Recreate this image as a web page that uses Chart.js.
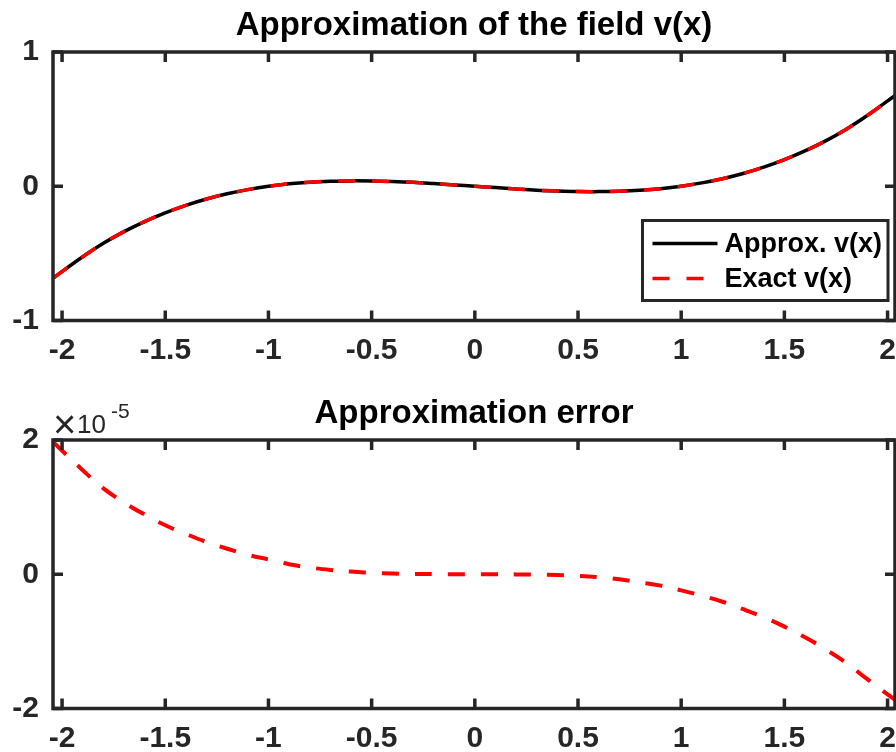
<!DOCTYPE html>
<html>
<head>
<meta charset="utf-8">
<script src="https://cdn.jsdelivr.net/npm/chart.js@4.4.1/dist/chart.umd.min.js"></script>
<style>
  body { margin: 0; background: #fff; }
  #wrap { position: relative; width: 896px; height: 752px; overflow: hidden; }
  canvas { position: absolute; left: 0; }
</style>
</head>
<body>
<div id="wrap">
  <canvas id="top" width="896" height="376" style="top:0"></canvas>
  <canvas id="bottom" width="896" height="376" style="top:376px"></canvas>
</div>
<script>
// sample positions along x
const xVals = [-2.04, -1.9, -1.8, -1.7, -1.6, -1.5, -1.4, -1.3, -1.2, -1.1, -1.0,
  -0.9, -0.8, -0.7, -0.6, -0.5, -0.4, -0.3, -0.2, -0.1, 0,
  0.1, 0.2, 0.3, 0.4, 0.5, 0.6, 0.7, 0.8, 0.9, 1.0,
  1.1, 1.2, 1.3, 1.4, 1.5, 1.6, 1.7, 1.8, 1.9, 2.04];

// field v(x)
const approxV = [-0.68, -0.525, -0.425, -0.338, -0.263, -0.198, -0.142, -0.095, -0.056, -0.025, 0.0,
  0.018, 0.030, 0.037, 0.040, 0.039, 0.035, 0.029, 0.020, 0.010, 0.0,
  -0.010, -0.020, -0.029, -0.035, -0.039, -0.040, -0.037, -0.030, -0.018, 0.0,
  0.025, 0.056, 0.095, 0.142, 0.198, 0.263, 0.338, 0.425, 0.525, 0.68];
const exactV = [-0.68, -0.525, -0.425, -0.338, -0.263, -0.198, -0.142, -0.095, -0.056, -0.025, 0.0,
  0.018, 0.030, 0.037, 0.040, 0.039, 0.035, 0.029, 0.020, 0.010, 0.0,
  -0.010, -0.020, -0.029, -0.035, -0.039, -0.040, -0.037, -0.030, -0.018, 0.0,
  0.025, 0.056, 0.095, 0.142, 0.198, 0.263, 0.338, 0.425, 0.525, 0.68];

// error, in units of 1e-5
const errV = [1.96, 1.55, 1.28, 1.07, 0.89, 0.73, 0.60, 0.48, 0.38, 0.29, 0.22,
  0.15, 0.10, 0.065, 0.04, 0.02, 0.01, 0.005, 0.002, 0.0, 0.0,
  0.0, -0.002, -0.006, -0.012, -0.025, -0.045, -0.075, -0.12, -0.17, -0.24,
  -0.32, -0.41, -0.52, -0.64, -0.78, -0.94, -1.12, -1.32, -1.56, -1.88];

const xTicks = [-2, -1.5, -1, -0.5, 0, 0.5, 1, 1.5, 2];
const vTicks = [-1, 0, 1];
const errTicks = [-2, 0, 2];

const FONT = '"Liberation Sans", Arial, Helvetica, sans-serif';
const AXIS = '#262626';

const pts = ys => xVals.map((x, i) => ({ x: x, y: ys[i] }));

// matlab style box, inward ticks, title, legend
const matlabAxes = {
  id: 'matlabAxes',
  afterDraw(chart, args, opts) {
    const { ctx, chartArea: a } = chart;
    const xs = chart.scales.x, ys = chart.scales.y;
    ctx.save();
    ctx.strokeStyle = AXIS;
    ctx.lineWidth = 3.5;
    ctx.lineCap = 'butt';
    ctx.beginPath();
    for (const t of opts.xTicks) {
      const px = xs.getPixelForValue(t);
      ctx.moveTo(px, a.bottom); ctx.lineTo(px, a.bottom - 10);
      ctx.moveTo(px, a.top); ctx.lineTo(px, a.top + 10);
    }
    for (const t of opts.yTicks) {
      const py = ys.getPixelForValue(t);
      ctx.moveTo(a.left, py); ctx.lineTo(a.left + 10, py);
      ctx.moveTo(a.right, py); ctx.lineTo(a.right - 10, py);
    }
    ctx.stroke();
    ctx.strokeRect(a.left, a.top, a.right - a.left, a.bottom - a.top);

    // title
    ctx.fillStyle = '#000';
    ctx.font = 'bold 33px ' + FONT;
    ctx.textAlign = 'center';
    ctx.textBaseline = 'alphabetic';
    ctx.fillText(opts.title, (a.left + a.right) / 2, a.top - 17);

    if (opts.exponent) {
      ctx.fillStyle = AXIS;
      ctx.textAlign = 'left';
      ctx.font = '40px ' + FONT;
      ctx.fillText('\u00d7', a.left, a.top - 2);
      ctx.font = '26px ' + FONT;
      ctx.fillText('10', a.left + 24, a.top - 7);
      ctx.font = '21px ' + FONT;
      ctx.fillText(opts.exponent, a.left + 58, a.top - 22);
    }

    if (opts.legend) {
      const sets = chart.data.datasets;
      ctx.font = 'bold 27px ' + FONT;
      const tw = Math.max(...sets.map(d => ctx.measureText(d.label).width));
      const bw = 11 + 62 + 9 + tw + 6, bh = 80;
      const bx = a.right - 7 - bw, by = a.bottom - 100;
      ctx.fillStyle = '#fff';
      ctx.fillRect(bx, by, bw, bh);
      ctx.lineWidth = 3;
      ctx.strokeStyle = AXIS;
      ctx.strokeRect(bx, by, bw, bh);
      sets.forEach((d, i) => {
        const cy = by + 24 + i * 35;
        ctx.beginPath();
        ctx.strokeStyle = d.borderColor;
        ctx.lineWidth = d.borderWidth;
        ctx.setLineDash(d.borderDash || []);
        ctx.moveTo(bx + 10, cy - 1); ctx.lineTo(bx + 75, cy - 1);
        ctx.stroke();
        ctx.setLineDash([]);
        ctx.fillStyle = '#000';
        ctx.textAlign = 'left';
        ctx.textBaseline = 'middle';
        ctx.fillText(d.label, bx + 82, cy);
      });
    }
    ctx.restore();
  }
};

function scalesFor(yMin, yMax, yTicks, xHeight) {
  const tickFont = { family: FONT, size: 30, weight: 'bold' };
  return {
    x: {
      type: 'linear', min: -2.044, max: 2.036,
      grid: { display: false, drawTicks: false },
      border: { display: false },
      ticks: { font: tickFont, color: AXIS, padding: 12, maxRotation: 0, autoSkip: false,
        callback: v => String(v) },
      afterBuildTicks: s => { s.ticks = xTicks.map(v => ({ value: v })); },
      afterFit: s => { s.height = xHeight; s.paddingLeft = 0; s.paddingRight = 0; }
    },
    y: {
      type: 'linear', min: yMin, max: yMax,
      grid: { display: false, drawTicks: false },
      border: { display: false },
      ticks: { font: tickFont, color: AXIS, padding: 14, callback: v => String(v) },
      afterBuildTicks: s => { s.ticks = yTicks.map(v => ({ value: v })); },
      afterFit: s => { s.width = 53; s.paddingTop = 0; s.paddingBottom = 0; }
    }
  };
}

new Chart(document.getElementById('top'), {
  type: 'line',
  data: {
    datasets: [
      { label: 'Approx. v(x)', data: pts(approxV), borderColor: '#000000', borderWidth: 3.5,
        pointRadius: 0, tension: 0.4, fill: false, order: 2 },
      { label: 'Exact v(x)', data: pts(exactV), borderColor: '#ff0000', borderWidth: 3.5,
        borderDash: [17, 17], pointRadius: 0, tension: 0.4, fill: false, order: 1 }
    ]
  },
  options: {
    responsive: false,
    animation: false,
    layout: { autoPadding: false, padding: { top: 52, right: 1, bottom: 5.5, left: 0 } },
    scales: scalesFor(-1, 1, vTicks, 50),
    plugins: {
      legend: { display: false },
      tooltip: { enabled: false },
      matlabAxes: { title: 'Approximation of the field v(x)', xTicks: xTicks, yTicks: vTicks, legend: true }
    }
  },
  plugins: [matlabAxes]
});

new Chart(document.getElementById('bottom'), {
  type: 'line',
  data: {
    datasets: [
      { label: 'Error', data: pts(errV), borderColor: '#ff0000', borderWidth: 4,
        borderDash: [17, 16], pointRadius: 0, tension: 0.4, fill: false }
    ]
  },
  options: {
    responsive: false,
    animation: false,
    layout: { autoPadding: false, padding: { top: 64, right: 1, bottom: 0, left: 0 } },
    scales: scalesFor(-2, 2, errTicks, 43.5),
    plugins: {
      legend: { display: false },
      tooltip: { enabled: false },
      matlabAxes: { title: 'Approximation error', xTicks: xTicks, yTicks: errTicks, exponent: '-5' }
    }
  },
  plugins: [matlabAxes]
});
</script>
</body>
</html>
